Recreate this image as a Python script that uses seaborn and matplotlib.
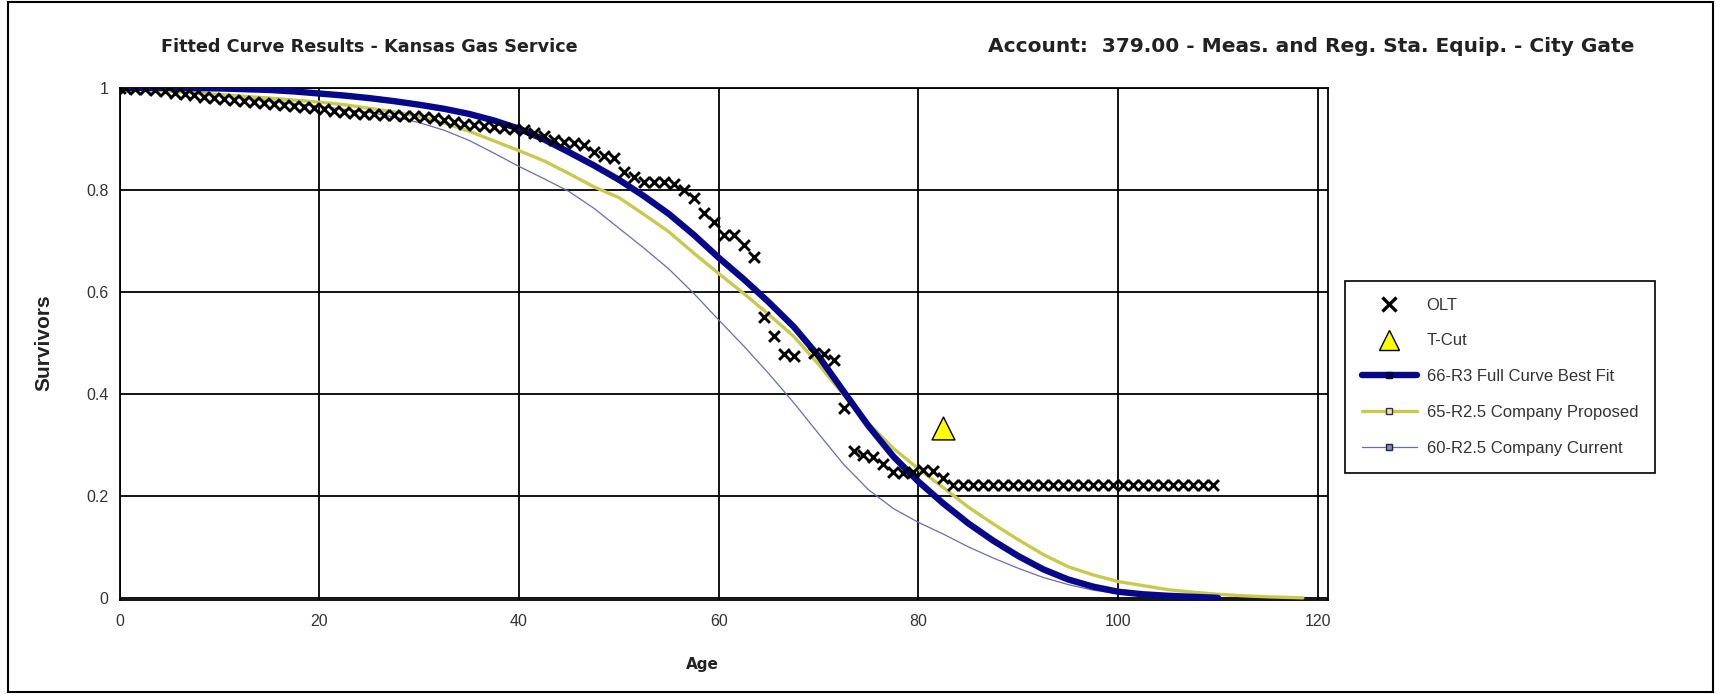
import matplotlib
matplotlib.use("Agg")
import matplotlib.pyplot as plt
import seaborn as sns
from matplotlib.lines import Line2D
from matplotlib.patches import Rectangle

# ---------------- data ----------------
title_left = "Fitted Curve Results - Kansas Gas Service"
title_right = "Account:  379.00 - Meas. and Reg. Sta. Equip. - City Gate"
x_label = "Age"
y_label = "Survivors"
x_ticks = [0, 20, 40, 60, 80, 100, 120]
y_ticks = [0, 0.2, 0.4, 0.6, 0.8, 1.0]
y_tick_labels = ["0", "0.2", "0.4", "0.6", "0.8", "1"]

olt_age = [0, 0.5, 1.5, 2.5, 3.5, 4.5, 5.5, 6.5, 7.5, 8.5, 9.5,
           10.5, 11.5, 12.5, 13.5, 14.5, 15.5, 16.5, 17.5, 18.5, 19.5,
           20.5, 21.5, 22.5, 23.5, 24.5, 25.5, 26.5, 27.5, 28.5, 29.5,
           30.5, 31.5, 32.5, 33.5, 34.5, 35.5, 36.5, 37.5, 38.5, 39.5,
           40.5, 41.5, 42.5, 43.5, 44.5, 45.5, 46.5, 47.5, 48.5, 49.5,
           50.5, 51.5, 52.5, 53.5, 54.5, 55.5, 56.5, 57.5, 58.5, 59.5,
           60.5, 61.5, 62.5, 63.5, 64.5, 65.5, 66.5, 67.5, 69.5,
           70.5, 71.5, 72.5, 73.5, 74.5, 75.5, 76.5, 77.5, 78.5, 79.5,
           80.5, 81.5, 82.5, 83.5, 84.5, 85.5, 86.5, 87.5, 88.5, 89.5,
           90.5, 91.5, 92.5, 93.5, 94.5, 95.5, 96.5, 97.5, 98.5, 99.5,
           100.5, 101.5, 102.5, 103.5, 104.5, 105.5, 106.5, 107.5, 108.5, 109.5]
olt_surv = [1.000, 0.999, 0.998, 0.997, 0.996, 0.994, 0.990, 0.988, 0.986, 0.983, 0.981,
            0.979, 0.977, 0.975, 0.973, 0.971, 0.969, 0.967, 0.965, 0.963, 0.961,
            0.958, 0.955, 0.953, 0.951, 0.949, 0.948, 0.947, 0.946, 0.945, 0.944,
            0.942, 0.940, 0.937, 0.934, 0.930, 0.927, 0.925, 0.923, 0.921, 0.920,
            0.917, 0.912, 0.905, 0.898, 0.893, 0.891, 0.889, 0.874, 0.866, 0.862,
            0.835, 0.825, 0.816, 0.816, 0.816, 0.812, 0.800, 0.784, 0.755, 0.738,
            0.712, 0.711, 0.692, 0.668, 0.551, 0.513, 0.479, 0.474, 0.480,
            0.479, 0.466, 0.372, 0.287, 0.281, 0.276, 0.263, 0.246, 0.245, 0.247,
            0.251, 0.249, 0.235, 0.222, 0.222, 0.222, 0.222, 0.222, 0.222, 0.222,
            0.222, 0.222, 0.222, 0.222, 0.222, 0.222, 0.222, 0.222, 0.222, 0.222,
            0.222, 0.222, 0.222, 0.222, 0.222, 0.222, 0.222, 0.222, 0.222, 0.222]

tcut_age = [82.5]
tcut_surv = [0.333]

r3_66_age = [0, 5, 10, 15, 17.5, 20, 22.5, 25, 27.5, 30, 32.5, 35, 37.5, 40, 42.5,
             45, 47.5, 50, 52.5, 55, 57.5, 60, 62.5, 65, 67.5, 70, 72.5, 75, 77.5,
             80, 82.5, 85, 87.5, 90, 92.5, 95, 97.5, 100, 102.5, 105, 107.5, 110]
r3_66_surv = [1.000, 1.000, 0.999, 0.996, 0.993, 0.989, 0.985, 0.980, 0.974, 0.967,
              0.959, 0.949, 0.936, 0.920, 0.899, 0.874, 0.848, 0.820, 0.788, 0.753,
              0.712, 0.667, 0.625, 0.580, 0.532, 0.474, 0.405, 0.337, 0.277, 0.228,
              0.185, 0.146, 0.112, 0.082, 0.056, 0.036, 0.022, 0.012, 0.007, 0.004,
              0.002, 0.000]

r25_65_age = [0, 5, 10, 15, 20, 22.5, 25, 27.5, 30, 32.5, 35, 37.5, 40, 42.5, 45,
              47.5, 50, 52.5, 55, 57.5, 60, 62.5, 65, 67.5, 70, 72.5, 75, 77.5, 80,
              82.5, 85, 87.5, 90, 92.5, 95, 97.5, 100, 102.5, 105, 107.5, 110, 112.5,
              115, 118.5]
r25_65_surv = [1.000, 0.993, 0.987, 0.980, 0.972, 0.967, 0.960, 0.953, 0.944, 0.931,
               0.915, 0.896, 0.877, 0.857, 0.832, 0.806, 0.785, 0.752, 0.718, 0.676,
               0.636, 0.597, 0.556, 0.513, 0.458, 0.398, 0.342, 0.293, 0.253, 0.216,
               0.178, 0.145, 0.114, 0.085, 0.061, 0.045, 0.032, 0.024, 0.016, 0.011,
               0.007, 0.004, 0.002, 0.000]

r25_60_age = [0, 5, 10, 15, 20, 22.5, 25, 27.5, 30, 32.5, 35, 37.5, 40, 42.5, 45,
              47.5, 50, 52.5, 55, 57.5, 60, 62.5, 65, 67.5, 70, 72.5, 75, 77.5, 80,
              82.5, 85, 87.5, 90, 92.5, 95, 97.5, 100, 102.5, 105]
r25_60_surv = [1.000, 0.993, 0.985, 0.975, 0.964, 0.958, 0.952, 0.943, 0.932, 0.917,
               0.897, 0.872, 0.846, 0.822, 0.797, 0.764, 0.725, 0.686, 0.645, 0.597,
               0.545, 0.494, 0.440, 0.383, 0.322, 0.262, 0.212, 0.175, 0.148, 0.125,
               0.100, 0.078, 0.058, 0.040, 0.026, 0.015, 0.008, 0.003, 0.000]

labels = ["OLT", "T-Cut", "66-R3 Full Curve Best Fit",
          "65-R2.5 Company Proposed", "60-R2.5 Company Current"]

# ---------------- style ----------------
sns.set_style("white")
plt.rcParams["font.family"] = ["Liberation Sans", "DejaVu Sans"]

BLUE = "#07078a"
YELLOW = "#c9c94e"
PURPLE = "#6b6bb0"
TXT = "#333333"

W, H = 1720, 694
fig = plt.figure(figsize=(W / 100, H / 100), dpi=100)
fig.patch.set_facecolor("white")

left_px, right_px, top_px, bot_px = 119.6, 1327.8, 87.9, 600.4
ax = fig.add_axes([left_px / W, 1 - bot_px / H, (right_px - left_px) / W, (bot_px - top_px) / H])
ax.set_facecolor("white")

sns.lineplot(x=r25_60_age, y=r25_60_surv, ax=ax, color=PURPLE, linewidth=0.9, zorder=3)
sns.lineplot(x=r25_65_age, y=r25_65_surv, ax=ax, color=YELLOW, linewidth=2.4, zorder=4)
sns.lineplot(x=r3_66_age, y=r3_66_surv, ax=ax, color=BLUE, linewidth=4.6, zorder=5)
sns.scatterplot(x=olt_age, y=olt_surv, ax=ax, marker="x", color="black", s=60,
                linewidth=2.1, zorder=6)
sns.scatterplot(x=tcut_age, y=tcut_surv, ax=ax, marker="^", color="#ffff00", s=270,
                edgecolor="black", linewidth=1.0, zorder=7)

ax.set_xlim(0, 121)
ax.set_ylim(-0.005, 1.0)
ax.set_xticks(x_ticks)
ax.set_yticks(y_ticks)
ax.set_yticklabels(y_tick_labels)
ax.grid(True, color="black", linewidth=1.3, zorder=0)
ax.set_axisbelow(True)
for s in ax.spines.values():
    s.set_color("black")
    s.set_linewidth(1.3)
ax.tick_params(axis="both", which="both", direction="out", length=5, width=1.2,
               color="black", labelsize=11.5, labelcolor=TXT)
ax.tick_params(axis="x", pad=4.5)
ax.tick_params(axis="y", pad=3)
ax.set_xlabel("")
ax.set_ylabel("")

fig.text(161 / W, 1 - 47 / H, title_left, ha="left", va="center", fontsize=12.7,
         fontweight="bold", family=["DejaVu Sans"], color="#222222")
fig.text(1634 / W, 1 - 47 / H, title_right, ha="right", va="center", fontsize=14.5,
         fontweight="bold", family=["DejaVu Sans"], color="#222222")
fig.text(44 / W, 1 - 343 / H, y_label, ha="center", va="center", rotation=90,
         fontsize=15, fontweight="bold", color="#222222")
fig.text(702 / W, 1 - 665 / H, x_label, ha="center", va="center",
         fontsize=11, fontweight="bold", family=["DejaVu Sans"], color="#222222")

handles = [
    Line2D([], [], linestyle="none", marker="x", color="black", markersize=9.5, markeredgewidth=2.4),
    Line2D([], [], linestyle="none", marker="^", markerfacecolor="#ffff00",
           markeredgecolor="black", markersize=14, markeredgewidth=1.0),
    Line2D([], [], color=BLUE, linewidth=4.6, marker="s", markersize=4,
           markerfacecolor="#000044", markeredgecolor="#000044", markevery=[1]),
    Line2D([], [], color=YELLOW, linewidth=2.4, marker="s", markersize=4,
           markerfacecolor="#e8e8c0", markeredgecolor="#333333", markevery=[1]),
    Line2D([], [], color=PURPLE, linewidth=0.9, marker="s", markersize=4,
           markerfacecolor="#8888bb", markeredgecolor="#222244", markevery=[1]),
]
leg = fig.legend(handles, labels, loc="upper left",
                 bbox_to_anchor=(1345 / W, 1 - 281 / H), borderaxespad=0,
                 frameon=True, fancybox=False,
                 edgecolor="black", fontsize=12, handlelength=3.3, handletextpad=0.6,
                 labelspacing=1.25, borderpad=1.0, framealpha=1)
leg.get_frame().set_linewidth(1.2)
for t in leg.get_texts():
    t.set_color(TXT)

fig.patches.append(Rectangle((8 / W, 2 / H), (1713 - 8) / W, (692 - 2) / H,
                             transform=fig.transFigure, fill=False,
                             edgecolor="black", linewidth=1.5))

fig.savefig("out.png", dpi=100, facecolor="white")
